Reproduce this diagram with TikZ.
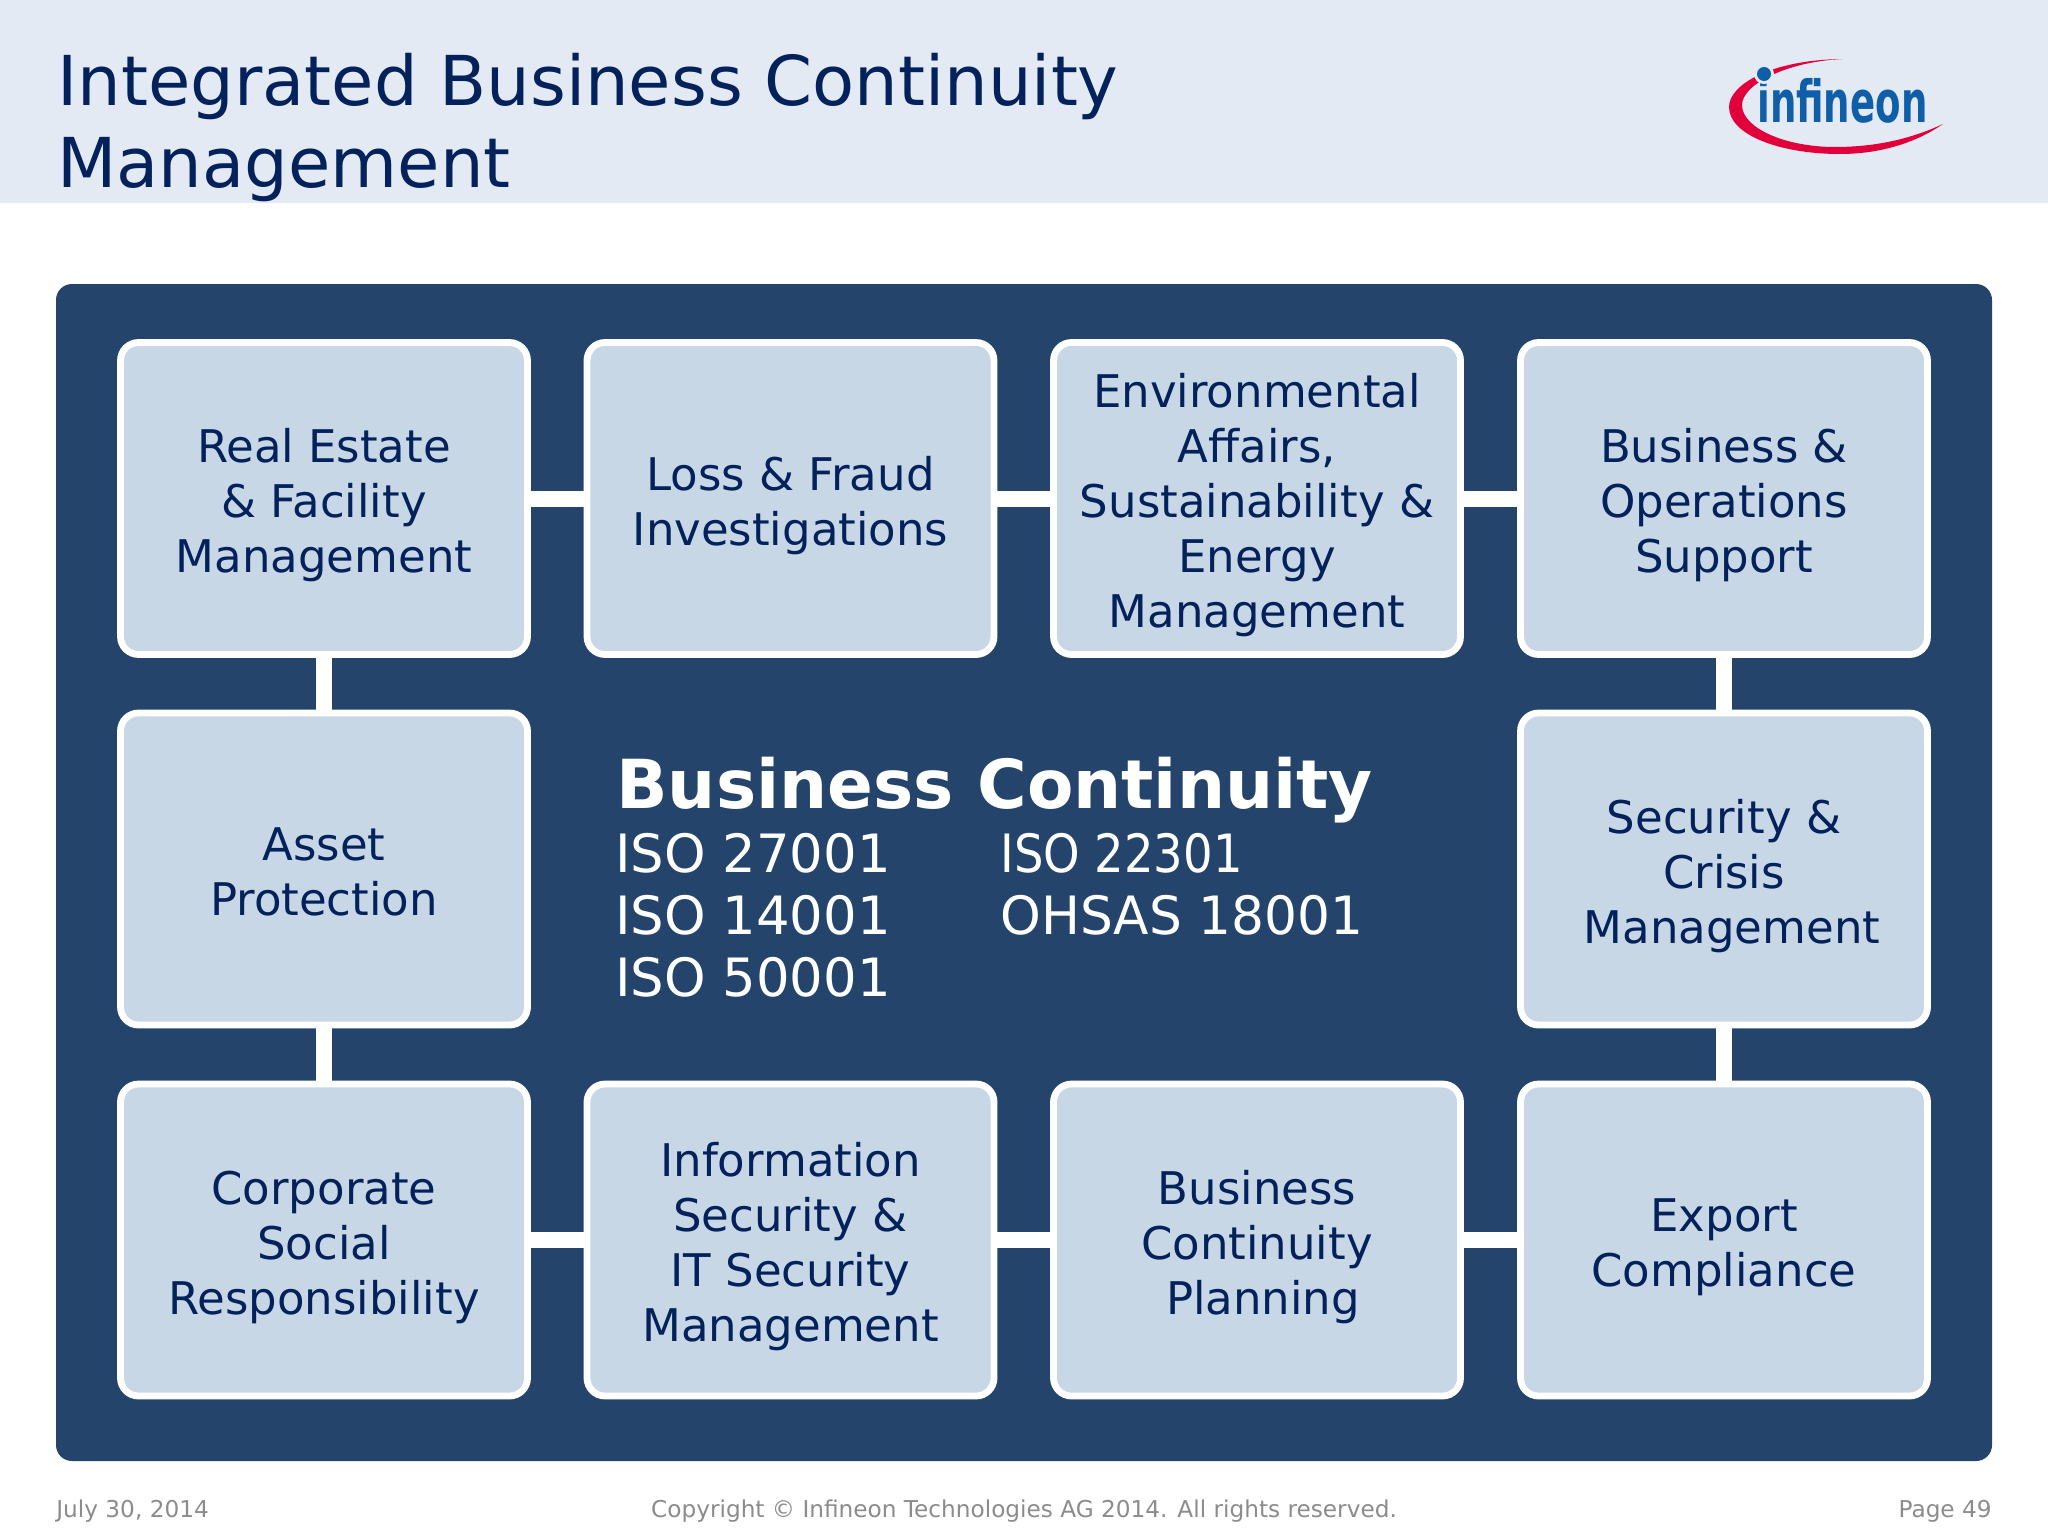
\documentclass[tikz,border=0pt]{standalone}
\usepackage{fontspec}
\setmainfont{DejaVu Sans}
\definecolor{headbg}{HTML}{E3EAF3}
\definecolor{panelblue}{HTML}{24446C}
\definecolor{boxblue}{HTML}{C8D7E6}
\definecolor{inkblue}{HTML}{03215A}
\definecolor{footgray}{HTML}{8C8C8C}
\definecolor{logoblue}{HTML}{0F5FA8}
\definecolor{logored}{HTML}{E2003C}
\newcommand{\toplift}{\rule{0pt}{24pt}}
\tikzset{
    areabox/.style={draw=white, fill=boxblue, line width=3.4pt, rounded corners=9pt,
        minimum width=203.5pt, minimum height=156pt, inner sep=0pt, align=center,
        text=inkblue, font=\fontsize{22.5}{27.5}\selectfont,
        execute at end node={\rule[-5pt]{0pt}{5pt}}},
    link/.style={draw=white, line width=8pt},
    isotext/.style={anchor=base west, inner sep=0pt, text=white, font=\fontsize{26.4}{31}\selectfont},
    foottext/.style={inner sep=0pt, text=footgray, font=\fontsize{11.6}{14}\selectfont}
}
\begin{document}
\begin{tikzpicture}[x=0.5pt, y=-0.5pt]
    \useasboundingbox (0,0) rectangle (2048,1536);
    \fill[white] (0,0) rectangle (2048,1536);
    \fill[headbg] (0,0) rectangle (2048,203);
    \fill[panelblue, rounded corners=8pt] (56,284) rectangle (1992,1461);
    % title
    \node[anchor=north west, inner sep=0pt, align=left, text=inkblue,
        font=\fontsize{34.4}{40.8}\selectfont] (title) at (57,53)
        {Integrated Business Continuity\\Management};
    % logo
    \fill[logored]
        (1842,59) .. controls (1770,60) and (1729,85) .. (1729,107)
        .. controls (1729,135) and (1780,154) .. (1840,154)
        .. controls (1885,154) and (1920,140) .. (1943,124)
        .. controls (1915,137) and (1880,147) .. (1835,147)
        .. controls (1785,147) and (1742,128) .. (1742,105)
        .. controls (1742,85) and (1785,62) .. (1842,59) -- cycle;
    \node[anchor=base west, inner sep=0pt, text=logoblue, xscale=0.64, transform shape,
        font=\fontsize{29}{29}\selectfont\bfseries] (logo) at (1757,122) {infineon};
    \fill[headbg] (1764,74) circle[radius=10];
    \fill[logoblue] (1764,74) circle[radius=7];
    % boxes
    \node[areabox] (estate) at (324,498.5) {\toplift Real Estate\\\& Facility\\Management};
    \node[areabox] (fraud) at (790.5,498.5) {\toplift Loss \& Fraud\\Investigations};
    \node[areabox] (environ) at (1257,498.5) {\toplift Environmental\\Affairs,\\Sustainability \&\\Energy\\Management};
    \node[areabox] (support) at (1724,498.5) {\toplift Business \&\\Operations\\Support};
    \node[areabox] (asset) at (324,869) {\toplift Asset\\Protection};
    \node[areabox] (crisis) at (1724,869) {\toplift Security \&\\Crisis\\\hspace*{8pt}Management};
    \node[areabox] (social) at (324,1240) {\toplift Corporate\\Social\\Responsibility};
    \node[areabox] (itsec) at (790.5,1240) {\toplift Information\\Security \&\\IT Security\\Management};
    \node[areabox] (planning) at (1257,1240) {\toplift Business\\Continuity\\\hspace*{6pt}Planning};
    \node[areabox] (export) at (1724,1240) {\toplift Export\\Compliance};
    % links
    \draw[link] (estate) -- (fraud);
    \draw[link] (fraud) -- (environ);
    \draw[link] (environ) -- (support);
    \draw[link] (support) -- (crisis);
    \draw[link] (crisis) -- (export);
    \draw[link] (export) -- (planning);
    \draw[link] (planning) -- (itsec);
    \draw[link] (itsec) -- (social);
    \draw[link] (social) -- (asset);
    \draw[link] (asset) -- (estate);
    % centre text
    \node[anchor=base west, inner sep=0pt, text=white,
        font=\fontsize{33.8}{40}\selectfont\bfseries] (heading) at (616,808) {Business Continuity};
    \node[isotext] (isoa) at (615,872) {ISO 27001};
    \node[isotext] (isob) at (615,934) {ISO 14001};
    \node[isotext] (isoc) at (615,996) {ISO 50001};
    \node[isotext, xscale=0.88, transform shape] (isod) at (1000,872) {ISO 22301};
    \node[isotext, xscale=0.98, transform shape] (isoe) at (1000,934) {OHSAS 18001};
    % footer
    \node[foottext, anchor=base west] (date) at (56,1517) {July 30, 2014};
    \node[foottext, anchor=base] (copy) at (1024,1517) {Copyright © Infineon Technologies AG 2014. All rights reserved.};
    \node[foottext, anchor=base east] (page) at (1992,1517) {Page 49};
\end{tikzpicture}
\end{document}
